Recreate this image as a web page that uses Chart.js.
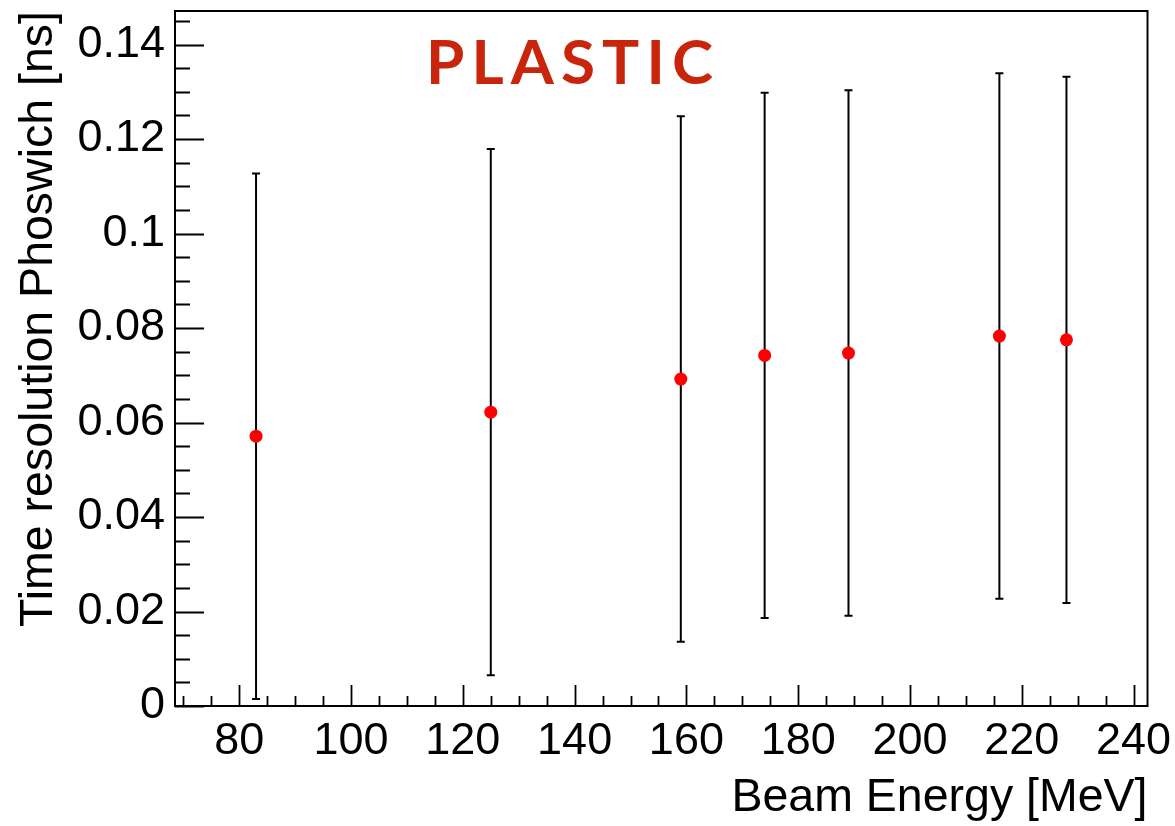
<!DOCTYPE html>
<html>
<head>
<meta charset="utf-8">
<script src="https://cdn.jsdelivr.net/npm/chart.js@4/dist/chart.umd.min.js"></script>
<style>
  body { margin: 0; background: #fff; }
  #wrap { width: 1175px; height: 826px; }
</style>
</head>
<body>
<div id="wrap"><canvas id="graf"></canvas></div>
<script>
// beam energy [MeV] and measured time resolution [ns]
const energias = [83, 125, 159, 174, 189, 216, 228];
const resolucion = [0.0571, 0.0622, 0.0692, 0.0742, 0.0747, 0.0783, 0.0775];
const errores = [0.0556, 0.0557, 0.0556, 0.0556, 0.0556, 0.0556, 0.0557];

const xTicks = [80, 100, 120, 140, 160, 180, 200, 220, 240];
const yTicks = [0, 0.02, 0.04, 0.06, 0.08, 0.1, 0.12, 0.14];

const etiqueta = 'PLASTIC';

const puntos = energias.map((e, i) => ({ x: e, y: resolucion[i] }));

const barras = energias.map((e, i) => ({
    type: 'scatter',
    showLine: true,
    data: [
        { x: e, y: resolucion[i] - errores[i] },
        { x: e, y: resolucion[i] + errores[i] },
    ],
    borderColor: '#000',
    borderWidth: 2,
    pointStyle: 'line',
    pointRadius: 4,
    pointBorderWidth: 2,
    pointBorderColor: '#000',
    order: 1,
}));

// ROOT style frame with inward ticks
const marco = {
    id: 'marco',
    afterDraw(chart) {
        const ctx = chart.ctx;
        const a = chart.chartArea;
        const sx = chart.scales.x, sy = chart.scales.y;
        ctx.save();
        ctx.strokeStyle = '#000';
        ctx.lineWidth = 2;
        ctx.strokeRect(a.left, a.top, a.right - a.left, a.bottom - a.top);
        ctx.lineWidth = 1.8;
        ctx.beginPath();
        for (let v = 70; v <= sx.max + 1e-9; v += 5) {
            const px = Math.round(sx.getPixelForValue(v)) + 0.5;
            const len = (v % 20 === 0) ? 21 : 10;
            ctx.moveTo(px, a.bottom);
            ctx.lineTo(px, a.bottom - len);
        }
        for (let k = 0; k * 0.005 <= sy.max + 1e-9; k++) {
            const py = Math.round(sy.getPixelForValue(k * 0.005)) + 0.5;
            const len = (k % 4 === 0) ? 29 : 15;
            ctx.moveTo(a.left, py);
            ctx.lineTo(a.left + len, py);
        }
        ctx.stroke();

        // label
        ctx.font = 'bold 62px Lato';
        ctx.fillStyle = '#c8250c';
        ctx.textBaseline = 'alphabetic';
        ctx.textAlign = 'left';
        const w0 = ctx.measureText(etiqueta).width;
        ctx.letterSpacing = ((287 - w0) / 6) + 'px';
        const lx = a.left + 0.258 * (a.right - a.left);
        const ly = a.top + 0.105 * (a.bottom - a.top);
        ctx.fillText(etiqueta, lx, ly);
        ctx.restore();
    }
};

const $ctx = document.getElementById('graf');

const chart = new Chart($ctx, {
    type: 'scatter',
    data: {
        datasets: [
            {
                data: puntos,
                backgroundColor: '#ff0000',
                borderColor: '#ff0000',
                borderWidth: 0,
                pointRadius: 6.5,
                pointHoverRadius: 6.5,
                order: 0,
            },
            ...barras
        ]
    },
    options: {
        responsive: true,
        maintainAspectRatio: false,
        devicePixelRatio: 1,
        animation: false,
        layout: { padding: { top: 11, right: 27.5, left: 0, bottom: 0 } },
        plugins: {
            legend: { display: false },
            tooltip: { enabled: false },
        },
        scales: {
            x: {
                type: 'linear',
                min: 68.5,
                max: 242.5,
                afterFit: s => {
                    s.height = 120;
                    s.paddingLeft = 0; s.paddingRight = 0;
                },
                afterBuildTicks: s => { s.ticks = xTicks.map(v => ({ value: v })); },
                grid: { display: false, drawTicks: false },
                border: { display: false },
                ticks: {
                    color: '#000',
                    padding: 9,
                    maxRotation: 0,
                    font: { family: 'Liberation Sans', size: 45 },
                    callback: v => String(v),
                },
                title: {
                    display: true,
                    text: 'Beam Energy [MeV]',
                    align: 'end',
                    color: '#000',
                    padding: { top: 0, bottom: 0 },
                    font: { family: 'Liberation Sans', size: 46.5 },
                },
            },
            y: {
                type: 'linear',
                min: 0,
                max: 0.1471,
                afterFit: s => {
                    s.width = 175;
                    s.paddingTop = 0; s.paddingBottom = 0;
                },
                afterBuildTicks: s => { s.ticks = yTicks.map(v => ({ value: v })); },
                grid: { display: false, drawTicks: false },
                border: { display: false },
                ticks: {
                    color: '#000',
                    padding: 10,
                    font: { family: 'Liberation Sans', size: 45 },
                    callback: v => String(+v.toFixed(2)),
                },
                title: {
                    display: true,
                    text: 'Time resolution Phoswich [ns]',
                    align: 'end',
                    color: '#000',
                    padding: { top: 11, bottom: 0 },
                    font: { family: 'Liberation Sans', size: 46.5 },
                },
            },
        },
    },
    plugins: [marco],
});
</script>
</body>
</html>
